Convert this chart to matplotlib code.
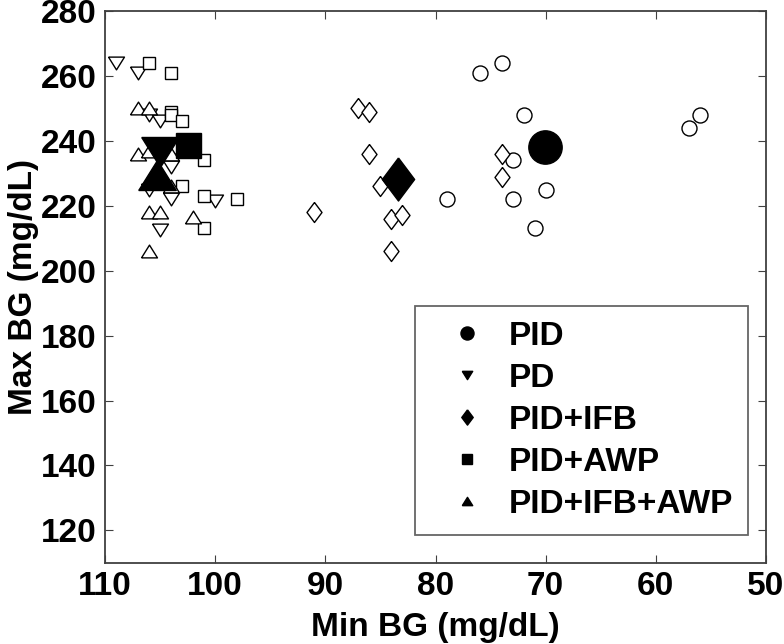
import numpy as np
import matplotlib
matplotlib.use("Agg")
import matplotlib.pyplot as plt
from matplotlib.lines import Line2D

plt.rcParams['font.family'] = ['Liberation Sans', 'DejaVu Sans']
plt.rcParams['font.weight'] = 'bold'

# per-subject results
pid_min = [76, 74, 72, 73, 70, 73, 71, 79, 57, 56]
pid_max = [261, 264, 248, 234, 225, 222, 213, 222, 244, 248]

pd_min = [109, 107, 106, 105, 106, 104, 100, 105, 104, 104]
pd_max = [264, 261, 248, 246, 225, 222, 221.5, 212.5, 234, 232]

ifb_min = [87, 86, 86, 85, 91, 84, 83, 84, 74, 74]
ifb_max = [250, 249, 236, 226, 218, 216, 217, 206, 236, 229]

awp_min = [106, 104, 104, 104, 103, 101, 103, 101, 98, 101]
awp_max = [264, 261, 249, 248, 246, 234, 226, 223, 222, 213]

both_min = [107, 106, 107, 106, 104, 106, 105, 102, 106, 104]
both_max = [250, 250, 236, 237, 226, 218, 218, 216.5, 206, 236]

names = ['PID', 'PD', 'PID+IFB', 'PID+AWP', 'PID+IFB+AWP']

# matlab style markers
tri_down = [(-1, 0.8), (1, 0.8), (0, -0.8), (-1, 0.8)]
tri_up = [(-1, -0.8), (1, -0.8), (0, 0.8), (-1, -0.8)]
diamond = [(0, 1), (0.75, 0), (0, -1), (-0.75, 0), (0, 1)]

groups = [
    (pid_min, pid_max, 'o', 10.8, 24),
    (pd_min, pd_max, tri_down, 11.5, 27),
    (ifb_min, ifb_max, diamond, 14.4, 31),
    (awp_min, awp_max, 's', 8, 18),
    (both_min, both_max, tri_up, 11.5, 27),
]

fig = plt.figure(figsize=(7.84, 6.44), dpi=100)
ax = fig.add_axes([0.134, 0.126, 0.843, 0.857])

for xs, ys, mk, ms, big in groups:
    ax.plot(xs, ys, linestyle='none', marker=mk, ms=ms, mfc='white',
            mec='black', mew=1.0)
for xs, ys, mk, ms, big in groups:
    ax.plot([np.mean(xs)], [np.mean(ys)], linestyle='none', marker=mk,
            ms=big, mfc='black', mec='black')

ax.set_xlim(110, 50)
ax.set_ylim(110, 280)
ax.set_xticks([110, 100, 90, 80, 70, 60, 50])
ax.set_yticks([120, 140, 160, 180, 200, 220, 240, 260, 280])
ax.tick_params(direction='in', top=True, right=True, length=6,
               labelsize=24, color='#404040', pad=6)
for sp in ax.spines.values():
    sp.set_color('#404040')
    sp.set_linewidth(1.3)
ax.set_xlabel('Min BG (mg/dL)', fontsize=24, fontweight='bold', labelpad=7)
ax.set_ylabel('Max BG (mg/dL)', fontsize=24, fontweight='bold', labelpad=1)

leg_ms = [9.4, 7.5, 11, 6.5, 7.5]
handles = [Line2D([], [], linestyle='none', marker=g[2], ms=m, mfc='black',
                  mec='black') for g, m in zip(groups, leg_ms)]
leg = ax.legend(handles, names, loc='lower right',
                bbox_to_anchor=(0.973, 0.051), fontsize=24, frameon=True,
                fancybox=False, edgecolor='#404040', handlelength=2.24,
                labelspacing=0.33, borderpad=0.44, handletextpad=0.14,
                borderaxespad=0)
leg.get_frame().set_linewidth(1.3)
for t in leg.get_texts():
    t.set_fontweight('bold')

fig.savefig('out.png', dpi=100)
